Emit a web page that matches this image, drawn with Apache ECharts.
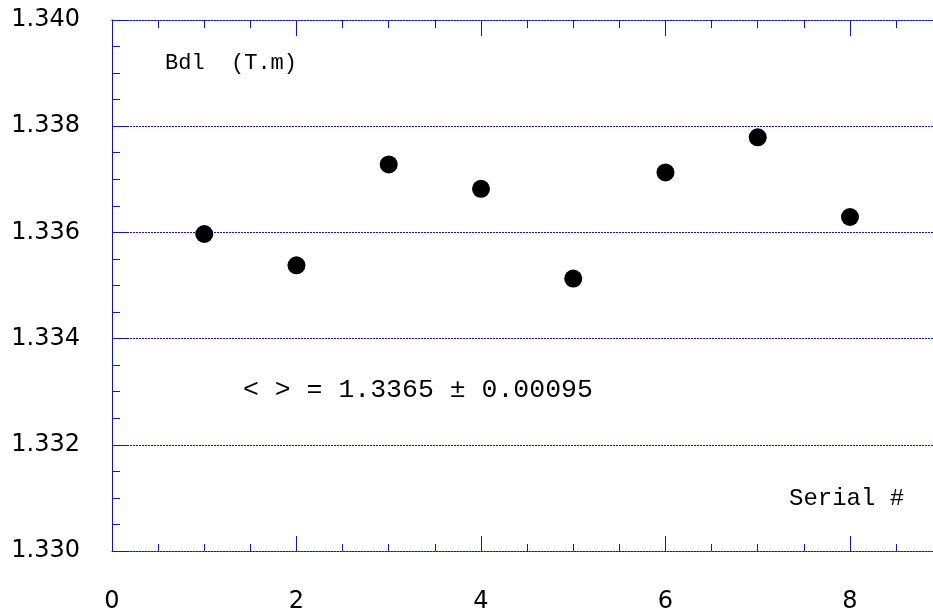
<!DOCTYPE html>
<html>
<head>
<meta charset="utf-8">
<script src="https://cdn.jsdelivr.net/npm/echarts@6/dist/echarts.min.js"></script>
<style>
  html, body { margin: 0; padding: 0; background: #fff; }
  #chart { width: 933px; height: 610px; }
</style>
</head>
<body>
<div id="chart"></div>
<script>
// Integrated field strength per magnet, by serial number
const serials = [1, 2, 3, 4, 5, 6, 7, 8];
const bdl = [1.33597, 1.33538, 1.33728, 1.33682, 1.33513, 1.33713, 1.33779, 1.33629];

// Axis ranges and tick steps
const xRange = [0, 8.9];
const xStep = 2;
const yRange = [1.330, 1.340];
const yStep = 0.002;

// Annotation texts
const yTitle = 'Bdl  (T.m)';
const xTitle = 'Serial #';
const meanText = '< > = 1.3365 \u00B1 0.00095';

const blue = '#1010e0';
const dotted = { color: blue, width: 1, type: [2, 1] };

const chart = echarts.init(document.getElementById('chart'), null, { renderer: 'canvas' });

const option = {
  animation: false,
  backgroundColor: '#ffffff',
  grid: { left: 112, right: 0, top: 20, bottom: 59, containLabel: false, outerBoundsMode: 'none' },
  xAxis: [
    {
      type: 'value', position: 'bottom',
      min: xRange[0], max: xRange[1], interval: xStep,
      axisLine: { show: true, lineStyle: dotted },
      axisTick: { show: true, inside: true, length: 15, lineStyle: { color: blue, width: 1 } },
      minorTick: { show: true, splitNumber: 4, length: 7, lineStyle: { color: blue, width: 1 } },
      axisLabel: { show: true, margin: 39, fontSize: 24, fontFamily: 'DejaVu Sans', color: '#000', showMaxLabel: false },
      splitLine: { show: false }
    },
    {
      type: 'value', position: 'top',
      min: xRange[0], max: xRange[1], interval: xStep,
      axisLine: { show: true, lineStyle: dotted },
      axisTick: { show: true, inside: true, length: 16, lineStyle: { color: blue, width: 1 } },
      minorTick: { show: true, splitNumber: 4, length: 8, lineStyle: { color: blue, width: 1 } },
      axisLabel: { show: false },
      splitLine: { show: false }
    }
  ],
  yAxis: {
    type: 'value',
    min: yRange[0], max: yRange[1], interval: yStep,
    axisLine: { show: true, lineStyle: { color: blue, width: 1 } },
    axisTick: { show: true, inside: true, length: 16, lineStyle: { color: blue, width: 1 } },
    minorTick: { show: true, splitNumber: 4, length: 8, lineStyle: { color: blue, width: 1 } },
    axisLabel: {
      margin: 32, fontSize: 24, fontFamily: 'DejaVu Sans', color: '#000',
      formatter: v => v.toFixed(3)
    },
    splitLine: { show: true, lineStyle: dotted }
  },
  series: [
    {
      type: 'scatter',
      xAxisIndex: 0,
      symbol: 'circle',
      symbolSize: 18,
      itemStyle: { color: '#000', opacity: 1 },
      emphasis: { disabled: true },
      data: serials.map((s, i) => [s, bdl[i]])
    }
  ],
  graphic: [
    { type: 'text', style: { x: 165, y: 63, text: yTitle, verticalAlign: 'middle',
      font: '22px "Liberation Mono"', fill: '#000' } },
    { type: 'text', style: { x: 243, y: 390, text: meanText, verticalAlign: 'middle',
      font: '26.5px "Liberation Mono"', fill: '#000' } },
    { type: 'text', style: { x: 789, y: 499, text: xTitle, verticalAlign: 'middle',
      font: '24px "Liberation Mono"', fill: '#000' } }
  ]
};

chart.setOption(option);
</script>
</body>
</html>
